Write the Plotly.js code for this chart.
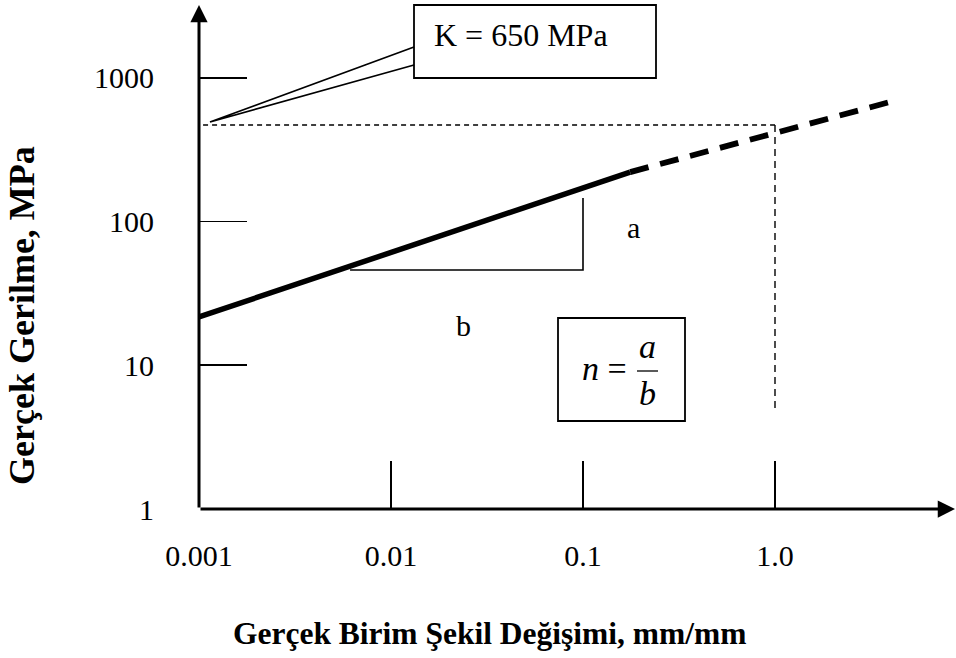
<!DOCTYPE html>
<html>
<head>
<meta charset="utf-8">
<script src="https://cdn.plot.ly/plotly-3.0.1.min.js"></script>
<style>
  html, body { margin: 0; padding: 0; background: #fff; }
  #chart { width: 956px; height: 658px; }
</style>
</head>
<body>
<div id="chart"></div>
<script>
// Flow curve (true stress vs true strain) on log-log axes
const strainSolid = [0.001, 0.176];
const stressSolid = [21.7, 221];
const strainDashed = [0.176, 4.2];
const stressDashed = [221, 694];

// Strength coefficient read-off guides (at strain = 1.0)
const kLevel = 470;
const kGuideX = [0.00105, 1.0, 1.0];
const kGuideY = [kLevel, kLevel, 4.66];

// Slope triangle: run "b", rise "a"
const triX = [0.00612, 0.1, 0.1];
const triY = [46, 46, 146];

// Axis ticks
const xTickVals = [0.001, 0.01, 0.1, 1];
const xTickText = ['0.001', '0.01', '0.1', '1.0'];
const yTickVals = [1, 10, 100, 1000];
const yTickText = ['1', '10', '100', '1000'];

const kLabel = 'K = 650 MPa';
const xTitle = 'Gerçek Birim Şekil Değişimi, mm/mm';
const yTitle = 'Gerçek Gerilme, MPa';

// Layout geometry
const W = 956, H = 658;
const M = { l: 199, r: 0, t: 0, b: 149 };
const plotW = W - M.l - M.r;
const plotH = H - M.t - M.b;
const decadeX = 192, decadeY = 143.7;

// pixel -> paper helpers for the drawn decorations
const px = v => (v - M.l) / plotW;
const py = v => (H - M.b - v) / plotH;

const serif = '"Times New Roman", "Liberation Serif", serif';
const txt = { family: serif, size: 30, color: '#000' };

const traces = [
  { x: strainSolid, y: stressSolid, mode: 'lines',
    line: { color: '#000', width: 5.5 }, hoverinfo: 'skip' },
  { x: strainDashed, y: stressDashed, mode: 'lines',
    line: { color: '#000', width: 5.8, dash: '19px,12px' }, hoverinfo: 'skip' },
  { x: kGuideX.slice(0, 2), y: kGuideY.slice(0, 2), mode: 'lines',
    line: { color: '#000', width: 1.3, dash: '5px,4px' }, hoverinfo: 'skip' },
  { x: kGuideX.slice(1), y: kGuideY.slice(1), mode: 'lines',
    line: { color: '#000', width: 1.4, dash: '7px,5px' }, hoverinfo: 'skip' },
  { x: triX, y: triY, mode: 'lines',
    line: { color: '#000', width: 1.6 }, hoverinfo: 'skip' }
];

const shapes = [
  // K callout box
  { type: 'rect', xref: 'paper', yref: 'paper',
    x0: px(414), x1: px(656), y0: py(78), y1: py(5),
    line: { color: '#000', width: 1.8 }, fillcolor: '#fff' },
  // callout pointer
  { type: 'path', xref: 'paper', yref: 'paper',
    path: `M ${px(414)} ${py(47)} L ${px(210)} ${py(122)} L ${px(414)} ${py(65)}`,
    line: { color: '#000', width: 1.7 } },
  // n = a/b box
  { type: 'rect', xref: 'paper', yref: 'paper',
    x0: px(558), x1: px(685), y0: py(421), y1: py(318),
    line: { color: '#000', width: 1.8 } },
  // fraction bar
  { type: 'line', xref: 'paper', yref: 'paper',
    x0: px(637), x1: px(658), y0: py(371), y1: py(371),
    line: { color: '#000', width: 1.3 } }
];

const ann = (x, y, text, extra) => Object.assign({
  xref: 'paper', yref: 'paper', x: px(x), y: py(y), text: text,
  showarrow: false, xanchor: 'center', yanchor: 'middle', font: txt
}, extra || {});
const sized = s => ({ font: { family: serif, size: s, color: '#000' } });

const annotations = [
  ann(521, 35, kLabel, sized(32)),
  ann(633, 228, 'a'),
  ann(463, 325, 'b'),
  ann(604, 368, '<i>n</i> =', sized(34)),
  ann(647, 346, '<i>a</i>', sized(34)),
  ann(647, 393, '<i>b</i>', sized(34)),
  ann(490, 633, '<b>' + xTitle + '</b>', sized(31.5)),
  ann(22, 316, '<b>' + yTitle + '</b>', Object.assign({ textangle: -90 }, sized(36))),
  // y axis with arrow
  { xref: 'paper', yref: 'paper', x: 0, y: py(5), ax: 0, ay: 504,
    axref: 'pixel', ayref: 'pixel', text: '', showarrow: true,
    arrowhead: 2, arrowsize: 1.15, arrowwidth: 3, arrowcolor: '#000', standoff: 0 },
  // x axis with arrow
  { xref: 'paper', yref: 'paper', x: px(970), y: 0, ax: -(970 - M.l), ay: 0,
    axref: 'pixel', ayref: 'pixel', text: '', showarrow: true,
    arrowhead: 2, arrowsize: 1.15, arrowwidth: 3, arrowcolor: '#000', standoff: 0 }
];

const layout = {
  width: W, height: H,
  margin: M,
  paper_bgcolor: '#fff', plot_bgcolor: '#fff',
  showlegend: false,
  xaxis: {
    type: 'log',
    range: [-3, -3 + plotW / decadeX],
    tickmode: 'array', tickvals: xTickVals, ticktext: xTickText,
    ticks: 'inside', ticklen: 48, tickwidth: 1.6, tickcolor: '#000',
    ticklabelstandoff: 26,
    showgrid: false, zeroline: false, showline: false,
    tickfont: txt, fixedrange: true
  },
  yaxis: {
    type: 'log',
    range: [0, plotH / decadeY],
    tickmode: 'array', tickvals: yTickVals, ticktext: yTickText,
    ticks: 'inside', ticklen: 48, tickwidth: 1.6, tickcolor: '#000',
    ticklabelstandoff: 44,
    showgrid: false, zeroline: false, showline: false,
    tickfont: txt, fixedrange: true
  },
  shapes: shapes,
  annotations: annotations
};

Plotly.newPlot('chart', traces, layout, { staticPlot: true, displayModeBar: false });
</script>
</body>
</html>
